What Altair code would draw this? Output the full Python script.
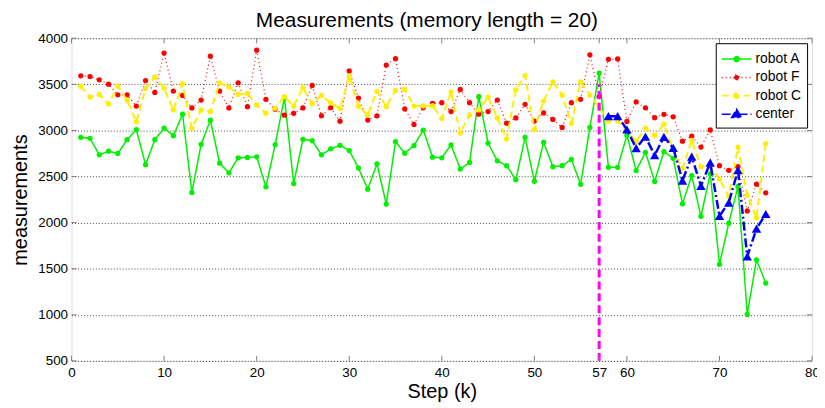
import altair as alt
import pandas as pd

# ---------------- data ----------------
steps = list(range(1, 76))
robot_a = [2925, 2915, 2735, 2775, 2750, 2900, 3008, 2628, 2900, 3025,
           2943, 3176, 2327, 2850, 3111, 2645, 2540, 2703, 2707, 2714,
           2388, 2846, 3355, 2424, 2904, 2889, 2735, 2800, 2839, 2782,
           2592, 2363, 2638, 2201, 2878, 2753, 2836, 3004, 2710, 2703,
           2843, 2581, 2653, 3366, 2861, 2671, 2617, 2466, 2925, 2448,
           2871, 2606, 2617, 2685, 2416, 3033, 3622, 2600, 2600, 2948,
           2565, 2762, 2446, 2770, 2698, 2204, 2510, 2068, 2530, 1548,
           1993, 2392, 1004, 1597, 1344]
robot_f = [3592, 3584, 3549, 3502, 3387, 3387, 3265, 3541, 3412, 3839,
           3427, 3380, 3244, 3330, 3806, 3427, 3244, 3516, 3258, 3871,
           3337, 3230, 3165, 3186, 3244, 3488, 3160, 3247, 3100, 3645,
           3351, 3112, 3158, 3709, 3778, 3233, 3065, 3248, 3294, 3301,
           3205, 3445, 3301, 3176, 3205, 3330, 3079, 3136, 3283, 3101,
           3190, 3119, 3033, 3301, 3337, 3821, 3368, 3772, 3775, 3098,
           3309, 3245, 3138, 3175, 3148, 2883, 2937, 2820, 3005, 2618,
           2567, 2608, 2126, 2417, 2323]
robot_c = [3477, 3362, 3391, 3287, 3480, 3330, 3094, 3455, 3577, 3459,
           3222, 3505, 3025, 3222, 3205, 3516, 3470, 3391, 3402, 3276,
           3187, 3240, 3366, 3265, 3463, 3290, 3380, 3298, 3240, 3588,
           3262, 3169, 3423, 3258, 3434, 3445, 3265, 3266, 3269, 3129,
           3416, 2972, 3169, 3222, 3362, 3136, 2907, 3441, 3595, 3011,
           3319, 3527, 3384, 3079, 3527, 3384, 3250, 3102, 3102, 2997,
           2880, 3025, 2944, 3069, 2790, 2589, 2891, 2605, 2620, 2470,
           2285, 2820, 2298, 2050, 2858]
center_steps = list(range(58, 76))
center = [3155, 3155, 3010, 2808, 2933, 2731, 2930, 2811, 2456, 2716,
          2398, 2650, 2072, 2216, 2569, 1633, 1934, 2093]

x_ticks = [0, 10, 20, 30, 40, 50, 57, 60, 70, 80]
y_ticks = [500, 1000, 1500, 2000, 2500, 3000, 3500, 4000]
series_names = ["robot A", "robot F", "robot C", "center"]
event_step = [57]
event_range = [500, 3500]

# ---------------- styles ----------------
colors = ["#00f000", "#ff0000", "#ffee00", "#0000ff"]
dashes = [[1, 0], [1, 3], [7, 4], [9, 3, 2, 3]]
widths = [1.5, 1.2, 2.0, 2.5]
marker_shapes = ["circle", "circle", "circle", "triangle-up"]
marker_sizes = [28, 28, 28, 90]
dot = "M-0.28,0A0.28,0.28,0,1,0,0.28,0A0.28,0.28,0,1,0,-0.28,0Z"
seg = "M-1.67,0L1.67,0"
legend_paths = [seg + dot, seg + dot, seg + dot,
                seg + "M0,-0.55L0.55,0.38L-0.55,0.38Z"]
FONT = "Liberation Sans"
FRAME = "#808080"

rows = []
for name, xs, ys in [("robot A", steps, robot_a), ("robot F", steps, robot_f),
                     ("robot C", steps, robot_c), ("center", center_steps, center)]:
    for s, v in zip(xs, ys):
        rows.append({"series": name, "step": s, "value": v})
df = pd.DataFrame(rows)

x_scale = alt.Scale(domain=[0, 80], nice=False, zero=False)
y_scale = alt.Scale(domain=[500, 4000], nice=False, zero=False)
x_axis = alt.Axis(values=x_ticks, title="Step (k)", grid=False, domain=False,
                  tickSize=0, labelPadding=5, titlePadding=2, format="d",
                  labelFont=FONT, labelFontSize=13.5, titleFont=FONT,
                  titleFontSize=20, titleFontWeight="normal", labelColor="black",
                  labelFlush=False)
y_axis = alt.Axis(values=y_ticks, title="measurements", grid=True, domain=False,
                  tickSize=0, labelPadding=4, titlePadding=7, format="d",
                  gridDash=[1, 2], gridColor="#333333", gridOpacity=0.9,
                  labelFont=FONT, labelFontSize=13.5, titleFont=FONT,
                  titleFontSize=20, titleFontWeight="normal", labelColor="black")
X = alt.X("step:Q", scale=x_scale, axis=x_axis)
Y = alt.Y("value:Q", scale=y_scale, axis=y_axis)

layers = []
for name, col, dsh, w, shp, sz in zip(series_names, colors, dashes, widths,
                                      marker_shapes, marker_sizes):
    base = alt.Chart(df).transform_filter(alt.datum.series == name)
    layers.append(base.mark_line(color=col, strokeDash=dsh, strokeWidth=w).encode(x=X, y=Y))
    layers.append(base.mark_point(filled=True, shape=shp, size=sz, color=col,
                                  opacity=1).encode(x=X, y=Y))

# event line
ev = pd.DataFrame({"step": event_step, "lo": [event_range[0]], "hi": [event_range[1]]})
layers.append(alt.Chart(ev).mark_rule(color="#ff00ff", strokeWidth=3,
                                      strokeDash=[8, 4]).encode(
    x=alt.X("step:Q", scale=x_scale), y=alt.Y("lo:Q", scale=y_scale), y2="hi:Q"))

# inward ticks
xt = pd.DataFrame({"t": x_ticks})
yt = pd.DataFrame({"t": y_ticks})
tick_len_y = 55
tick_len_x = 0.55
for y0, y1 in [(500, 500 + tick_len_y), (4000, 4000 - tick_len_y)]:
    layers.append(alt.Chart(xt).mark_rule(color=FRAME, strokeWidth=1).encode(
        x=alt.X("t:Q", scale=x_scale), y=alt.datum(y0), y2=alt.datum(y1)))
for x0, x1 in [(0, tick_len_x), (80, 80 - tick_len_x)]:
    layers.append(alt.Chart(yt).mark_rule(color=FRAME, strokeWidth=1).encode(
        y=alt.Y("t:Q", scale=y_scale), x=alt.datum(x0), x2=alt.datum(x1)))

# legend (from scales only)
legend = alt.Legend(title=None, orient="top-right", offset=5,
                    fillColor="white", strokeColor="black", padding=6,
                    labelFont=FONT, labelFontSize=14, labelColor="black",
                    symbolSize=324, symbolStrokeWidth=1.5, symbolOffset=5,
                    labelOffset=9, rowPadding=1.5, cornerRadius=0)
leg_layer = alt.Chart(df).transform_filter("false").mark_point(opacity=1, filled=True).encode(
    x=alt.X("step:Q", scale=x_scale),
    y=alt.Y("value:Q", scale=y_scale),
    fill=alt.Fill("series:N", scale=alt.Scale(domain=series_names, range=colors), legend=legend),
    stroke=alt.Stroke("series:N", scale=alt.Scale(domain=series_names, range=colors), legend=legend),
    shape=alt.Shape("series:N", scale=alt.Scale(domain=series_names, range=legend_paths), legend=legend),
    strokeDash=alt.StrokeDash("series:N", scale=alt.Scale(domain=series_names, range=dashes), legend=legend),
)
layers.append(leg_layer)

chart = alt.layer(*layers).properties(
    width=746, height=325,
    title=alt.TitleParams("Measurements (memory length = 20)", font=FONT,
                          fontSize=21, fontWeight="normal", color="black",
                          anchor="middle", offset=0, dx=-15),
    autosize=alt.AutoSizeParams(type="none"),
    padding={"left": 64, "top": 29, "right": 5, "bottom": 46},
).configure_view(stroke=FRAME, strokeWidth=1).configure(background="white")

chart.save("out.html", embed_options={"renderer": "svg", "actions": False})
